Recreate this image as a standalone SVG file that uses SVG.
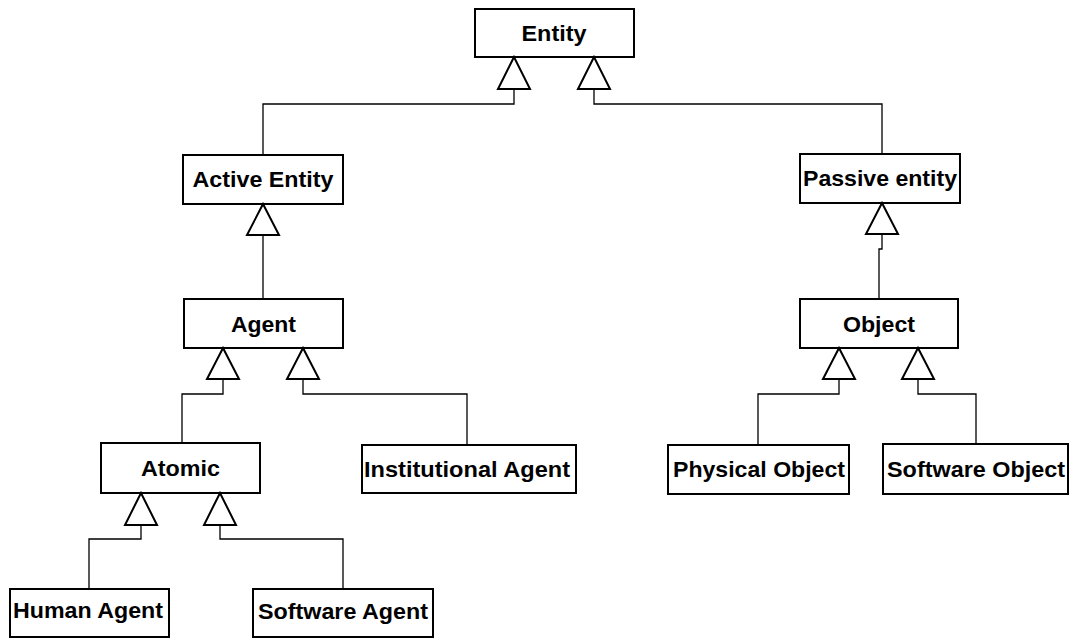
<svg xmlns="http://www.w3.org/2000/svg" width="1070" height="639" viewBox="0 0 1070 639">
  <style>
    .box { fill: #ffffff; stroke: #000000; stroke-width: 2; }
    .tri { fill: #ffffff; stroke: #000000; stroke-width: 2; stroke-linejoin: miter; }
    .lbl { font-family: "Liberation Sans", Arial, sans-serif; font-weight: bold; font-size: 22.5px; fill: #000000; text-anchor: middle; }
    .wire { fill: none; stroke: #000000; stroke-width: 1.3; }
  </style>
  <rect width="1070" height="639" fill="#ffffff"/>

  <!-- generalisation links (drawn first, triangles sit on top) -->
  <g id="connectors">
    <polyline class="wire" points="514,89 514,104 263,104 263,155"/>
    <polyline class="wire" points="594,89 594,104 882,104 882,154"/>
    <polyline class="wire" points="263,235 263,299"/>
    <polyline class="wire" points="882,234 882,249 879,249 879,299"/>
    <polyline class="wire" points="223,379 223,394 182,394 182,443"/>
    <polyline class="wire" points="303,379 303,394 467,394 467,445"/>
    <polyline class="wire" points="839,379 839,394 758,394 758,445"/>
    <polyline class="wire" points="918,379 918,394 976,394 976,444"/>
    <polyline class="wire" points="141,525 141,539 89,539 89,589"/>
    <polyline class="wire" points="220,525 220,539 343,539 343,589"/>
  </g>

  <g id="entity">
    <rect class="box" x="475" y="9" width="159" height="48"/>
    <text class="lbl" x="554" y="41" textLength="65" lengthAdjust="spacingAndGlyphs">Entity</text>
    <polygon class="tri" points="514,57 498,89 530,89"/>
    <polygon class="tri" points="594,57 578,89 610,89"/>
  </g>

  <g id="active-entity">
    <rect class="box" x="183" y="155" width="160" height="49"/>
    <text class="lbl" x="263" y="187" textLength="141" lengthAdjust="spacingAndGlyphs">Active Entity</text>
    <polygon class="tri" points="263,204 247,235 279,235"/>
  </g>

  <g id="passive-entity">
    <rect class="box" x="800" y="154" width="160" height="49"/>
    <text class="lbl" x="880" y="186" textLength="154" lengthAdjust="spacingAndGlyphs">Passive entity</text>
    <polygon class="tri" points="882,203 866,234 898,234"/>
  </g>

  <g id="agent">
    <rect class="box" x="184" y="299" width="159" height="49"/>
    <text class="lbl" x="263.5" y="332" textLength="65" lengthAdjust="spacingAndGlyphs">Agent</text>
    <polygon class="tri" points="223,348 207,379 239,379"/>
    <polygon class="tri" points="303,348 287,379 319,379"/>
  </g>

  <g id="object">
    <rect class="box" x="800" y="299" width="158" height="49"/>
    <text class="lbl" x="879" y="332" textLength="72" lengthAdjust="spacingAndGlyphs">Object</text>
    <polygon class="tri" points="839,348 823,379 855,379"/>
    <polygon class="tri" points="918,348 902,379 934,379"/>
  </g>

  <g id="atomic">
    <rect class="box" x="101" y="443" width="159" height="50"/>
    <text class="lbl" x="180.5" y="476" textLength="79" lengthAdjust="spacingAndGlyphs">Atomic</text>
    <polygon class="tri" points="141,493 125,525 157,525"/>
    <polygon class="tri" points="220,493 204,525 236,525"/>
  </g>

  <g id="institutional-agent">
    <rect class="box" x="362" y="445" width="214" height="48"/>
    <text class="lbl" x="467" y="477" textLength="206" lengthAdjust="spacingAndGlyphs">Institutional Agent</text>
  </g>

  <g id="physical-object">
    <rect class="box" x="668" y="445" width="181" height="49"/>
    <text class="lbl" x="759" y="477" textLength="172" lengthAdjust="spacingAndGlyphs">Physical Object</text>
  </g>

  <g id="software-object">
    <rect class="box" x="883" y="444" width="185" height="50"/>
    <text class="lbl" x="976" y="477" textLength="178" lengthAdjust="spacingAndGlyphs">Software Object</text>
  </g>

  <g id="human-agent">
    <rect class="box" x="10" y="589" width="159" height="48"/>
    <text class="lbl" x="88" y="618" textLength="150" lengthAdjust="spacingAndGlyphs">Human Agent</text>
  </g>

  <g id="software-agent">
    <rect class="box" x="253" y="589" width="180" height="48"/>
    <text class="lbl" x="343" y="619" textLength="170" lengthAdjust="spacingAndGlyphs">Software Agent</text>
  </g>
</svg>
